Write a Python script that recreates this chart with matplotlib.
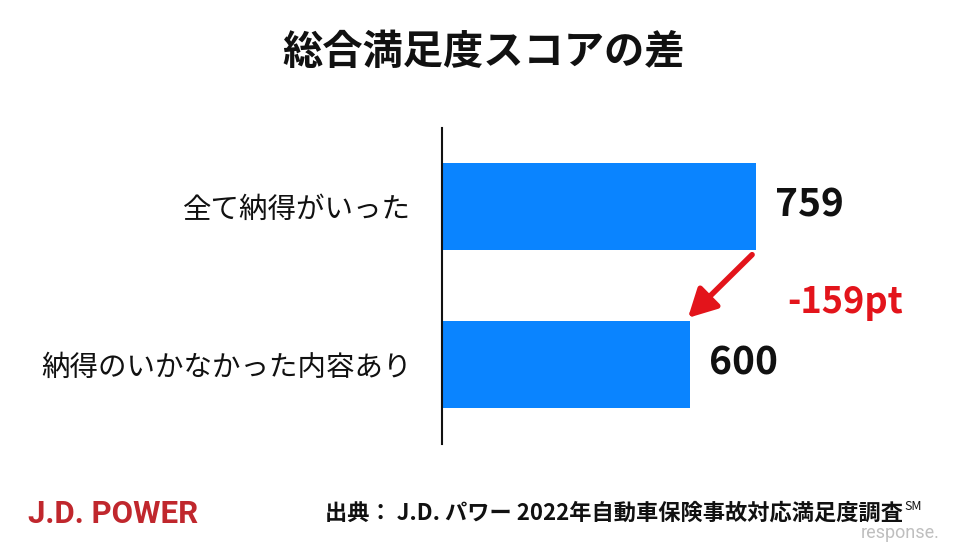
import matplotlib
matplotlib.use("Agg")
import matplotlib.pyplot as plt

plt.rcParams['font.family'] = ['Noto Sans CJK JP', 'DejaVu Sans']

# ---- data ----
title = "総合満足度スコアの差"
categories = ["全て納得がいった", "納得のいかなかった内容あり"]
values = [759, 600]
value_labels = ["759", "600"]
source_text = "出典： J.D. パワー 2022年自動車保険事故対応満足度調査"
brand = "J.D. POWER"

BAR_COLOR = "#0A84FF"
RED = "#E3141B"

W, H = 968, 543
fig = plt.figure(figsize=(W / 100, H / 100), dpi=100)
fig.patch.set_facecolor("white")

# axes placed in pixel geometry
ax_left, ax_right = 442, 856
ax_top, ax_bottom = 127.5, 443.5
ax = fig.add_axes([ax_left / W, 1 - ax_bottom / H,
                   (ax_right - ax_left) / W, (ax_bottom - ax_top) / H])

ypos = list(range(len(categories)))
bar_h = 0.55
ax.barh(ypos, values, height=bar_h, color=BAR_COLOR, zorder=2)
ax.set_xlim(0, 1000)
ax.set_ylim(len(categories) - 0.5, -0.5)

ax.set_yticks(ypos)
ax.set_yticklabels(categories, fontsize=20.5, color="#111111")
ax.tick_params(axis="y", length=0, pad=22)
ax.set_xticks([])
for s in ["top", "right", "bottom"]:
    ax.spines[s].set_visible(False)
ax.spines["left"].set_linewidth(1.5)
ax.spines["left"].set_color("#111111")
ax.spines["left"].set_zorder(3)

# value labels
for y, v, lab in zip(ypos, values, value_labels):
    ax.text(v + 45, y - 0.01, lab, fontsize=28, fontweight="bold",
            va="center", ha="left", color="#111111", clip_on=False)

# difference arrow and label
diff = values[0] - values[1]
ax.annotate("", xy=(values[1] - 6, 1 - bar_h / 2 - 0.02),
            xytext=(values[0] - 10, bar_h / 2 + 0.03),
            arrowprops=dict(arrowstyle="-|>,head_length=0.85,head_width=0.45",
                            mutation_scale=20, lw=4, color=RED,
                            shrinkA=0, shrinkB=0),
            annotation_clip=False)
ax.text(values[0] + 74, 0.61, f"-{diff}pt", fontsize=26, fontweight="bold",
        color=RED, va="center", ha="left", clip_on=False)

# title
fig.text(484 / W, 1 - 53 / H, title, fontsize=29, fontweight="bold",
         ha="center", va="center", color="#111111")

# footer
fig.text(28 / W, 1 - 514 / H, brand, fontsize=22.5, fontweight="bold",
         family=["Liberation Sans Narrow", "Roboto", "DejaVu Sans"],
         color="#C0272D", ha="left", va="center")
src = fig.text(325 / W, 1 - 513 / H, source_text, fontsize=16, fontweight="bold",
               ha="left", va="center", color="#111111")
sm = fig.text(0, 0, "SM", fontsize=9, color="#111111", ha="left", va="top")
fig.canvas.draw()
bb = src.get_window_extent()
sm.set_position(((bb.x1 + 1) / W, (bb.y1 + 1) / H))

# watermark
fig.text(940 / W, 1 - 533 / H, "response.", fontsize=13, color="#B8B8B8",
         ha="right", va="center", family=["Roboto", "DejaVu Sans"], alpha=0.9)

fig.savefig("out.png", dpi=100, facecolor="white")
